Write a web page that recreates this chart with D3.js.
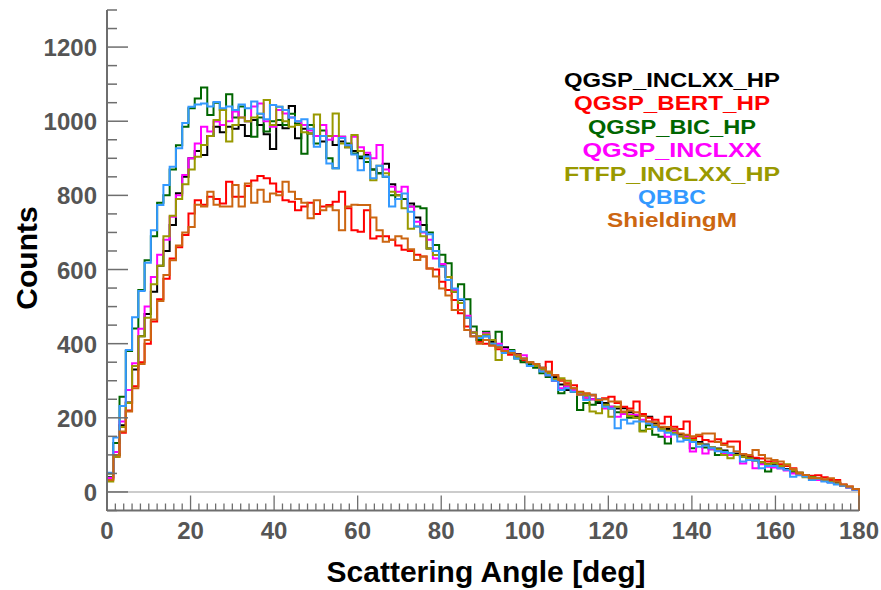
<!DOCTYPE html>
<html><head><meta charset="utf-8">
<script src="https://cdn.jsdelivr.net/npm/d3@7"></script>
<style>
html,body{margin:0;padding:0;background:#fff;}
svg{display:block;}
text{font-family:"Liberation Sans",Arial,Helvetica,sans-serif;font-weight:bold;}
</style></head>
<body>
<svg id="chart" width="881" height="590"></svg>
<script>
// ---- data ----
const binWidth = 1.5; // degrees per bin, 120 bins over 0..180
const xTickLabels = [0,20,40,60,80,100,120,140,160,180];
const yTickLabels = [0,200,400,600,800,1000,1200];
const seriesNames = ["QGSP_INCLXX_HP","QGSP_BERT_HP","QGSP_BIC_HP","QGSP_INCLXX","FTFP_INCLXX_HP","QBBC","ShieldingM"];
const seriesColors = ["#000000","#ff0000","#006600","#ff00ff","#999900","#3399ff","#cc6611"];

const qgspInclxxHp = [40,100,180,241,330,420,480,540,610,650,720,806,850,900,920,909,960,985,970,985,
 980,990,960,1003,990,965,925,990,981,1041,954,980,967,960,945,960,936,945,930,920,
 900,909,870,860,885,830,800,790,778,740,720,657,650,610,580,540,518,470,430,410,
 420,405,395,390,375,372,355,350,340,335,320,310,290,275,275,265,255,250,240,240,
 230,225,226,215,205,205,203,185,175,170,165,155,150,140,135,128,120,117,112,105,
 103,97,95,90,80,75,72,70,62,55,52,46,42,36,33,28,24,18,13,6];

const qgspBertHp = [35,95,160,220,285,350,400,460,520,575,630,660,693,751,787,775,796,790,778,837,
 796,796,825,840,852,846,832,810,787,783,760,770,780,750,770,774,783,810,765,706,
 702,760,684,690,690,680,665,653,650,640,635,603,600,567,545,518,482,446,420,405,
 400,395,385,380,370,365,355,348,340,330,351,315,300,293,288,270,265,260,250,253,
 257,240,230,225,244,210,200,195,185,203,176,170,190,145,150,140,136,142,131,136,
 136,102,98,92,90,82,80,75,70,64,52,46,44,45,40,33,32,20,15,8];

const qgspBicHp = [50,132,257,380,441,545,625,690,780,800,870,935,985,1035,1061,1091,1017,1050,1030,1073,
 1010,1040,1000,958,1010,972,1000,1003,990,1020,994,912,990,940,975,900,873,958,940,913,
 905,890,870,860,850,800,790,790,770,770,765,700,666,640,617,545,560,520,446,410,
 432,400,432,380,383,360,350,345,335,320,310,300,266,285,270,221,240,235,245,235,
 225,215,210,200,200,165,180,154,149,131,160,150,145,118,130,120,115,100,110,100,
 100,95,90,85,78,55,70,65,60,55,50,45,40,35,32,27,23,18,13,6];

const qgspInclxx = [38,108,190,275,347,440,500,580,640,680,742,800,855,900,940,985,972,999,990,1000,
 1026,1010,1000,1040,1048,1000,985,1030,1021,1010,1000,990,975,960,990,950,960,958,935,958,
 930,915,900,936,870,823,810,823,770,729,700,680,630,615,580,545,510,475,430,420,
 428,410,400,385,380,370,369,350,340,330,315,300,280,285,275,265,255,250,248,225,
 230,203,210,208,208,195,190,180,170,149,163,150,148,109,130,104,115,112,105,100,
 100,77,88,64,75,68,66,63,58,50,48,44,38,32,30,26,22,16,12,6];

const ftfpInclxxHp = [28,95,175,240,340,420,470,560,610,690,745,790,830,870,904,936,960,1003,1030,945,
 990,1010,1000,1010,1020,1057,990,1039,1000,985,990,970,967,1018,960,960,1021,940,930,963,
 920,900,841,880,860,810,800,765,710,716,690,657,639,608,580,540,510,470,430,420,
 425,410,356,380,375,365,360,350,340,330,320,305,307,300,280,268,260,217,212,235,
 203,230,215,205,200,163,170,180,170,165,160,150,145,140,130,125,120,115,100,91,
 100,95,90,85,80,75,78,70,75,58,52,40,40,37,32,27,22,17,14,7];

const qbbc = [52,147,232,383,471,542,618,706,774,828,877,927,995,1039,1045,1048,1040,1052,1035,1040,
 1030,1045,1035,1053,1020,1005,1044,1039,1030,1010,1000,1005,980,931,960,886,873,955,935,910,
 868,905,846,880,850,770,790,805,756,716,702,695,650,608,572,549,520,470,420,415,
 420,400,395,375,380,360,360,340,345,325,315,300,275,280,270,262,248,262,250,230,
 225,172,195,185,190,190,185,175,165,160,155,136,140,135,122,125,118,110,108,105,
 109,82,86,85,64,70,70,64,60,41,45,42,32,35,28,25,20,17,12,6];

const shieldingM = [32,100,163,217,280,345,410,465,515,585,625,665,700,715,775,770,810,775,770,770,
 828,770,832,780,815,783,805,800,837,810,790,780,738,787,760,770,760,706,770,775,
 774,774,740,706,675,680,690,684,655,626,635,603,581,549,530,491,491,437,420,400,
 410,395,390,380,375,370,360,350,345,335,325,315,302,290,280,262,266,262,248,250,
 244,244,217,220,215,205,190,188,176,175,170,158,154,150,154,158,158,135,127,122,
 109,102,100,113,100,90,86,82,73,62,50,46,37,37,34,37,28,20,14,8];

const seriesValues = [qgspInclxxHp, qgspBertHp, qgspBicHp, qgspInclxx, ftfpInclxxHp, qbbc, shieldingM];
const legendWidths = [216, 196, 168, 179, 216, 68, 130];

// ---- drawing ----
const svg = d3.select("#chart");
const xMin = 0, xMax = 180, yMin = -50, yMax = 1300;
const x = d3.scaleLinear().domain([xMin, xMax]).range([107, 859]);
const y = d3.scaleLinear().domain([yMin, yMax]).range([510.5, 10]);
const axisColor = "#6e6e6e";
const labelColor = "#555555";

// zero line
svg.append("line")
  .attr("x1", x(xMin)).attr("x2", x(xMax))
  .attr("y1", y(0)).attr("y2", y(0))
  .attr("stroke", "#cccccc").attr("stroke-width", 2);

// histograms
const line = d3.line().x(d => x(d[0])).y(d => y(d[1])).curve(d3.curveStepAfter);
seriesValues.forEach((vals, k) => {
  const pts = [[xMin, yMin]];
  vals.forEach((v, i) => pts.push([i * binWidth, v]));
  pts.push([xMax, yMin]);
  svg.append("path")
    .attr("d", line(pts))
    .attr("fill", "none")
    .attr("stroke", seriesColors[k])
    .attr("stroke-width", 2)
    .attr("stroke-linejoin", "miter");
});

// y axis
const yAxisG = svg.append("g");
yAxisG.append("line").attr("x1", 107).attr("x2", 107).attr("y1", y(yMax)).attr("y2", y(yMin))
  .attr("stroke", axisColor).attr("stroke-width", 2);
d3.range(yMin, yMax + 1, 50).forEach(v => {
  const major = v % 200 === 0;
  yAxisG.append("line").attr("x1", 107).attr("x2", 107 + (major ? 21 : 10))
    .attr("y1", y(v)).attr("y2", y(v)).attr("stroke", axisColor).attr("stroke-width", 1.5);
});
yTickLabels.forEach(v => {
  yAxisG.append("text").attr("x", 97).attr("y", y(v) + 9)
    .attr("text-anchor", "end").attr("font-size", 24).attr("fill", labelColor).text(v);
});

// x axis
const xAxisG = svg.append("g");
xAxisG.append("line").attr("x1", x(xMin)).attr("x2", x(xMax)).attr("y1", y(yMin)).attr("y2", y(yMin))
  .attr("stroke", axisColor).attr("stroke-width", 2);
d3.range(xMin, xMax + 1, 2).forEach(v => {
  const major = v % 20 === 0;
  xAxisG.append("line").attr("x1", x(v)).attr("x2", x(v))
    .attr("y1", y(yMin)).attr("y2", y(yMin) - (major ? 15 : 7))
    .attr("stroke", axisColor).attr("stroke-width", 1.3);
});
xTickLabels.forEach(v => {
  xAxisG.append("text").attr("x", x(v)).attr("y", 539)
    .attr("text-anchor", "middle").attr("font-size", 24).attr("fill", labelColor).text(v);
});

// axis titles
svg.append("text").attr("x", 486).attr("y", 582).attr("text-anchor", "middle")
  .attr("font-size", 30).attr("fill", "#000").text("Scattering Angle [deg]");
svg.append("text").attr("transform", "translate(37,258) rotate(-90)").attr("text-anchor", "middle")
  .attr("font-size", 30).attr("fill", "#000").text("Counts");

// legend (coloured names)
seriesNames.forEach((name, k) => {
  svg.append("text").attr("x", 672).attr("y", 87 + k * 23.4)
    .attr("text-anchor", "middle").attr("font-size", 20)
    .attr("textLength", legendWidths[k]).attr("lengthAdjust", "spacingAndGlyphs")
    .attr("fill", seriesColors[k]).text(name);
});
</script>
</body></html>
